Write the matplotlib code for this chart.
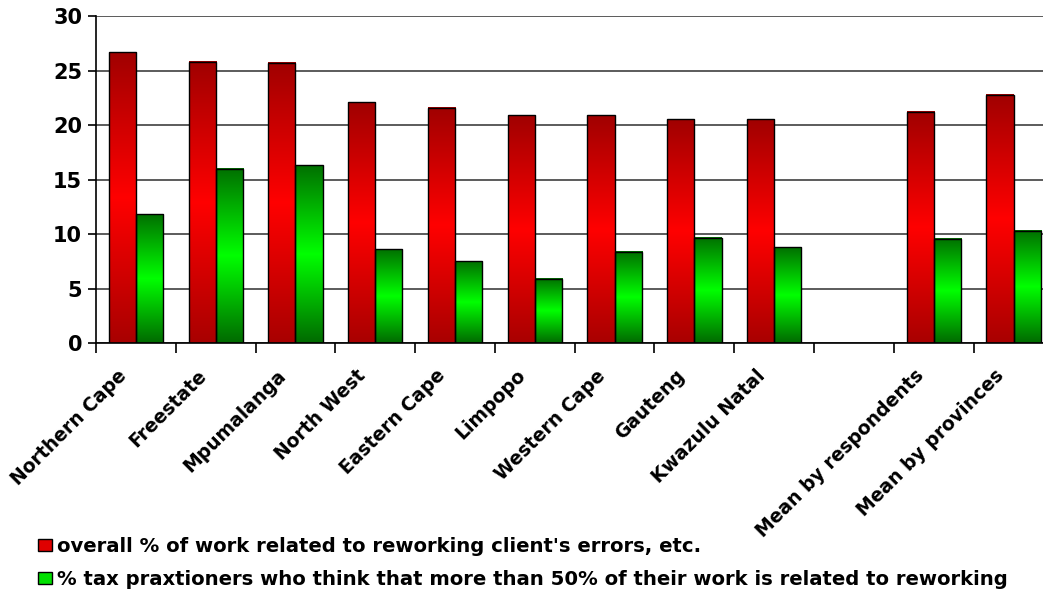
import numpy as np
import matplotlib
matplotlib.use("Agg")
import matplotlib.pyplot as plt
import matplotlib.transforms as mtransforms
from matplotlib.colors import LinearSegmentedColormap
from matplotlib.patches import Patch

# provinces plus the two means, with an empty slot before the means
categories = ["Northern Cape", "Freestate", "Mpumalanga", "North West",
              "Eastern Cape", "Limpopo", "Western Cape", "Gauteng",
              "Kwazulu Natal", "", "Mean by respondents", "Mean by provinces"]
overall_rework = [26.7, 25.8, 25.7, 22.1, 21.6, 20.9, 20.9, 20.55, 20.55,
                  np.nan, 21.2, 22.8]
over_half_rework = [11.8, 16.0, 16.3, 8.6, 7.5, 5.9, 8.35, 9.65, 8.8,
                    np.nan, 9.55, 10.3]
series_names = ["overall % of work related to reworking client's errors, etc.",
                "% tax praxtioners who think that more than 50% of their work is related to reworking"]
yticks = [0, 5, 10, 15, 20, 25, 30]

plt.rcParams["font.family"] = ["DejaVu Sans"]
plt.rcParams["font.weight"] = "bold"

red_cmap = LinearSegmentedColormap.from_list("r", ["#a80000", "#ff0000", "#a00000"])
green_cmap = LinearSegmentedColormap.from_list("g", ["#006a00", "#00ff00", "#007000"])

fig = plt.figure(figsize=(10.43, 5.95), dpi=100)
ax = fig.add_axes([0.092, 0.4235, 0.918, 0.5495])

x = np.arange(len(categories))
w = 0.34
grad = np.linspace(0, 1, 256).reshape(-1, 1)


def gradient_bars(xs, vals, cmap):
    bars = ax.bar(xs, vals, w, facecolor="none", edgecolor="black",
                  linewidth=1.0, zorder=3)
    for b in bars:
        h = b.get_height()
        if not np.isfinite(h):
            continue
        x0 = b.get_x()
        ax.imshow(grad, cmap=cmap, aspect="auto", origin="lower",
                  extent=(x0, x0 + b.get_width(), 0, h), zorder=2)


gradient_bars(x - w / 2, overall_rework, red_cmap)
gradient_bars(x + w / 2, over_half_rework, green_cmap)

ax.set_xlim(-0.5, len(categories) - 0.5)
ax.set_ylim(0, 30)
ax.set_yticks(yticks)
ax.yaxis.grid(True, color="#404040", linewidth=1.2, zorder=0)
ax.set_axisbelow(True)

# category boundaries get the tick marks, names sit slanted under each slot
ax.set_xticks(np.arange(len(categories)) - 0.5)
ax.set_xticklabels([])
ax.tick_params(axis="x", length=7, width=1.2, direction="out")
shift = mtransforms.ScaledTranslation(-19 / 100, -23 / 100, fig.dpi_scale_trans)
label_trans = ax.get_xaxis_transform() + shift
for xi, name in zip(x, categories):
    ax.text(xi, 0, name, transform=label_trans, rotation=45, ha="right",
            va="top", rotation_mode="anchor", fontsize=13.5, fontweight="bold")

ax.tick_params(axis="y", length=6, width=1.2, labelsize=15, pad=4)
for lab in ax.get_yticklabels():
    lab.set_fontweight("bold")

for side in ["top", "right"]:
    ax.spines[side].set_visible(False)
for side in ["left", "bottom"]:
    ax.spines[side].set_linewidth(1.2)

handles = [Patch(facecolor="#e00000", edgecolor="black"),
           Patch(facecolor="#00e000", edgecolor="black")]
fig.legend(handles, series_names, loc="upper left",
           bbox_to_anchor=(38 / 1043, (595 - 537) / 595),
           frameon=False, fontsize=14.1, handlelength=0.71, handleheight=0.56,
           handletextpad=0.25, labelspacing=0.7, borderpad=0, borderaxespad=0)

fig.savefig("out.png", dpi=100)
